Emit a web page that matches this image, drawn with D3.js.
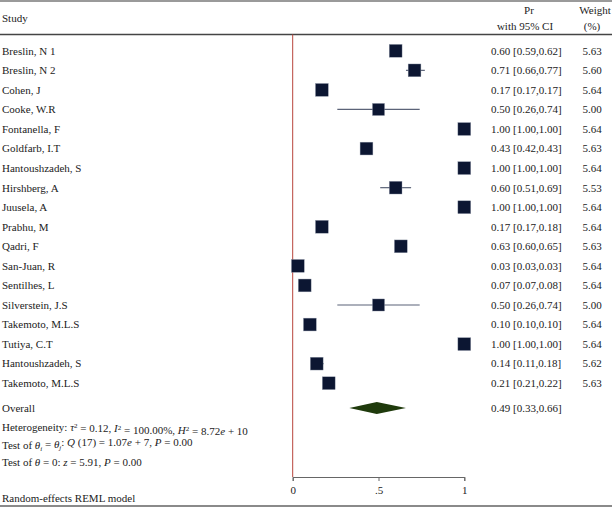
<!DOCTYPE html>
<html>
<head>
<meta charset="utf-8">
<script src="https://cdn.jsdelivr.net/npm/d3@7"></script>
<style>
  body { margin: 0; background: #fff; }
  svg text { font-family: "Liberation Serif", "DejaVu Serif", serif; font-size: 11px; fill: #222; }
</style>
</head>
<body>
<div id="chart"></div>
<script>
// forest plot data
var studies = ["Breslin, N 1", "Breslin, N 2", "Cohen, J", "Cooke, W.R", "Fontanella, F", "Goldfarb, I.T",
  "Hantoushzadeh, S", "Hirshberg, A", "Juusela, A", "Prabhu, M", "Qadri, F", "San-Juan, R",
  "Sentilhes, L", "Silverstein, J.S", "Takemoto, M.L.S", "Tutiya, C.T", "Hantoushzadeh, S", "Takemoto, M.L.S"];
var pr = [0.60, 0.71, 0.17, 0.50, 1.00, 0.43, 1.00, 0.60, 1.00, 0.17, 0.63, 0.03, 0.07, 0.50, 0.10, 1.00, 0.14, 0.21];
var lower = [0.59, 0.66, 0.17, 0.26, 1.00, 0.42, 1.00, 0.51, 1.00, 0.17, 0.60, 0.03, 0.07, 0.26, 0.10, 1.00, 0.11, 0.21];
var upper = [0.62, 0.77, 0.17, 0.74, 1.00, 0.43, 1.00, 0.69, 1.00, 0.18, 0.65, 0.03, 0.08, 0.74, 0.10, 1.00, 0.18, 0.22];
var weights = [5.63, 5.60, 5.64, 5.00, 5.64, 5.63, 5.64, 5.53, 5.64, 5.64, 5.63, 5.64, 5.64, 5.00, 5.64, 5.64, 5.62, 5.63];
var overall = [0.49, 0.33, 0.66]; // estimate, lower, upper
var xTicks = [0, 0.5, 1];

var svgWidth = 612;
var svgHeight = 507;

var svg = d3.select("#chart")
  .append("svg")
  .attr("width", svgWidth)
  .attr("height", svgHeight);

var rows = studies.map(function(s, i) {
  return { study: s, pr: pr[i], lo: lower[i], hi: upper[i], w: weights[i], i: i };
});

// scales
var xScale = d3.scaleLinear().domain([0, 1]).range([292.7, 464.3]);
var yScale = d3.scaleLinear().domain([0, studies.length - 1]).range([50.8, 383.2]);
var sizeScale = d3.scaleSqrt().domain([0, 5.64]).range([0, 12.8]);
var fmt = d3.format(".2f");
var overallY = yScale(18.27);
var axisY = 477;

// frame lines
svg.append("line").attr("x1", 0).attr("x2", svgWidth).attr("y1", 1).attr("y2", 1)
  .attr("stroke", "#9a9a9a").attr("stroke-width", 2);
svg.append("line").attr("x1", 0).attr("x2", svgWidth).attr("y1", 34.5).attr("y2", 34.5)
  .attr("stroke", "#444").attr("stroke-width", 1.3);
svg.append("line").attr("x1", 0).attr("x2", svgWidth).attr("y1", 506).attr("y2", 506)
  .attr("stroke", "#8a8a8a").attr("stroke-width", 2);

// header
svg.append("text").attr("x", 2).attr("y", 18).attr("dy", "0.35em").text("Study");
svg.append("text").attr("x", 529).attr("y", 10).attr("dy", "0.35em").attr("text-anchor", "middle").text("Pr");
svg.append("text").attr("x", 525).attr("y", 26).attr("dy", "0.35em").attr("text-anchor", "middle").text("with 95% CI");
svg.append("text").attr("x", 595).attr("y", 10).attr("dy", "0.35em").attr("text-anchor", "middle").text("Weight");
svg.append("text").attr("x", 592).attr("y", 26).attr("dy", "0.35em").attr("text-anchor", "middle").text("(%)");

// null line
svg.append("line")
  .attr("x1", xScale(0)).attr("x2", xScale(0))
  .attr("y1", 34.5).attr("y2", axisY)
  .attr("stroke", "#b8443c").attr("stroke-width", 1);

// axis
var axis = svg.append("g")
  .attr("transform", "translate(0," + axisY + ")")
  .call(d3.axisBottom(xScale).tickValues(xTicks).tickSizeOuter(0).tickSize(4)
    .tickFormat(function(d) { return d === 0.5 ? ".5" : d; }));
axis.select(".domain").attr("stroke", "#666");
axis.selectAll(".tick line").attr("stroke", "#666");
axis.selectAll(".tick text")
  .attr("y", 13).attr("dy", "0.35em")
  .style("font-family", "\"Liberation Serif\", serif").style("font-size", "11px").attr("fill", "#222");

// study rows
var row = svg.selectAll(".row").data(rows).enter().append("g").attr("class", "row");

row.append("text").attr("x", 2).attr("y", d => yScale(d.i)).attr("dy", "0.35em").text(d => d.study);

row.append("line")
  .attr("x1", d => xScale(d.lo)).attr("x2", d => xScale(d.hi))
  .attr("y1", d => yScale(d.i)).attr("y2", d => yScale(d.i))
  .attr("stroke", "#5b6378").attr("stroke-width", 1.2);

row.append("rect")
  .attr("x", d => xScale(d.pr) - sizeScale(d.w) / 2)
  .attr("y", d => yScale(d.i) - sizeScale(d.w) / 2)
  .attr("width", d => sizeScale(d.w))
  .attr("height", d => sizeScale(d.w))
  .attr("fill", "#0c1632")
  .attr("stroke", "#8d95a6").attr("stroke-width", 0.4);

row.append("text").attr("x", 491).attr("y", d => yScale(d.i)).attr("dy", "0.35em")
  .text(d => fmt(d.pr) + " [" + fmt(d.lo) + "," + fmt(d.hi) + "]");
row.append("text").attr("x", 592).attr("y", d => yScale(d.i)).attr("dy", "0.35em").attr("text-anchor", "middle")
  .text(d => fmt(d.w));

// overall
svg.append("text").attr("x", 2).attr("y", overallY).attr("dy", "0.35em").text("Overall");
svg.append("path")
  .attr("d", "M" + xScale(overall[1]) + "," + overallY +
    "L" + xScale(overall[0]) + "," + (overallY - 6) +
    "L" + xScale(overall[2]) + "," + overallY +
    "L" + xScale(overall[0]) + "," + (overallY + 6) + "Z")
  .attr("fill", "#1f3a0c");
svg.append("text").attr("x", 491).attr("y", overallY).attr("dy", "0.35em")
  .text(fmt(overall[0]) + " [" + fmt(overall[1]) + "," + fmt(overall[2]) + "]");

// heterogeneity notes
var t1 = svg.append("text").attr("x", 2).attr("y", 427).attr("dy", "0.35em");
t1.append("tspan").text("Heterogeneity: ");
t1.append("tspan").style("font-style", "italic").text("τ");
t1.append("tspan").attr("dy", "-0.35em").style("font-size", "7px").text("2");
t1.append("tspan").attr("dy", "0.35em").text(" = 0.12, ");
t1.append("tspan").style("font-style", "italic").text("I");
t1.append("tspan").attr("dy", "-0.35em").style("font-size", "7px").text("2");
t1.append("tspan").attr("dy", "0.35em").text(" = 100.00%, ");
t1.append("tspan").style("font-style", "italic").text("H");
t1.append("tspan").attr("dy", "-0.35em").style("font-size", "7px").text("2");
t1.append("tspan").attr("dy", "0.35em").text(" = 8.72");
t1.append("tspan").style("font-style", "italic").text("e");
t1.append("tspan").text(" + 10");

var t2 = svg.append("text").attr("x", 2).attr("y", 445).attr("dy", "0.35em");
t2.append("tspan").text("Test of ");
t2.append("tspan").style("font-style", "italic").text("θ");
t2.append("tspan").attr("dy", "0.3em").style("font-size", "7px").style("font-style", "italic").text("i");
t2.append("tspan").attr("dy", "-0.3em").text(" = ");
t2.append("tspan").style("font-style", "italic").text("θ");
t2.append("tspan").attr("dy", "0.3em").style("font-size", "7px").style("font-style", "italic").text("j");
t2.append("tspan").attr("dy", "-0.3em").text(": ");
t2.append("tspan").style("font-style", "italic").text("Q");
t2.append("tspan").text(" (17) = 1.07");
t2.append("tspan").style("font-style", "italic").text("e");
t2.append("tspan").text(" + 7, ");
t2.append("tspan").style("font-style", "italic").text("P");
t2.append("tspan").text(" = 0.00");

var t3 = svg.append("text").attr("x", 2).attr("y", 462).attr("dy", "0.35em");
t3.append("tspan").text("Test of ");
t3.append("tspan").style("font-style", "italic").text("θ");
t3.append("tspan").text(" = 0: ");
t3.append("tspan").style("font-style", "italic").text("z");
t3.append("tspan").text(" = 5.91, ");
t3.append("tspan").style("font-style", "italic").text("P");
t3.append("tspan").text(" = 0.00");

svg.append("text").attr("x", 2).attr("y", 498).attr("dy", "0.35em").text("Random-effects REML model");
</script>
</body>
</html>
